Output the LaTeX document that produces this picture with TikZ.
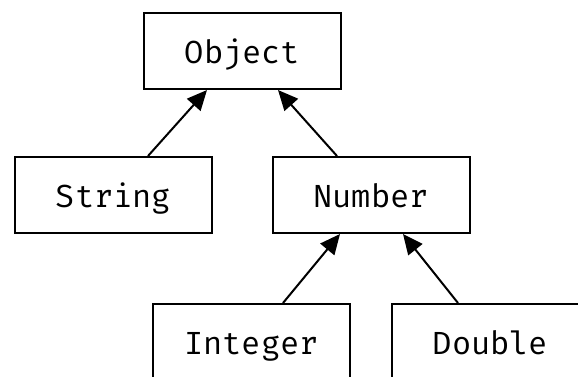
\documentclass[tikz,border=0pt]{standalone}
\usepackage{fontspec}
\setmonofont{Fira Mono}
\usetikzlibrary{arrows.meta}
\begin{document}
\begin{tikzpicture}[x=1pt,y=-1pt,
  cls/.style={draw, line width=2pt, minimum width=197pt, minimum height=76pt, inner sep=0pt,
    text height=30pt, text depth=6pt,
    font=\fontsize{32}{36}\selectfont\ttfamily},
  inh/.style={line width=2pt, -{Triangle[length=20pt,width=18pt]}}]
\useasboundingbox (0,0) rectangle (578,376);
\node[cls] (obj) at (242.5,51) {Object};
\node[cls] (str) at (113.5,195) {String};
\node[cls] (num) at (371,195) {Number};
\node[cls] (int) at (251.5,342) {Integer};
\node[cls] (dbl) at (490.5,342) {Double};
\draw[inh] ([xshift=34.5pt]str.north) -- ([xshift=-35.5pt]obj.south);
\draw[inh] ([xshift=-34pt]num.north) -- ([xshift=35.5pt]obj.south);
\draw[inh] ([xshift=31.5pt]int.north) -- ([xshift=-31pt]num.south);
\draw[inh] ([xshift=-32.5pt]dbl.north) -- ([xshift=32pt]num.south);
\end{tikzpicture}
\end{document}
